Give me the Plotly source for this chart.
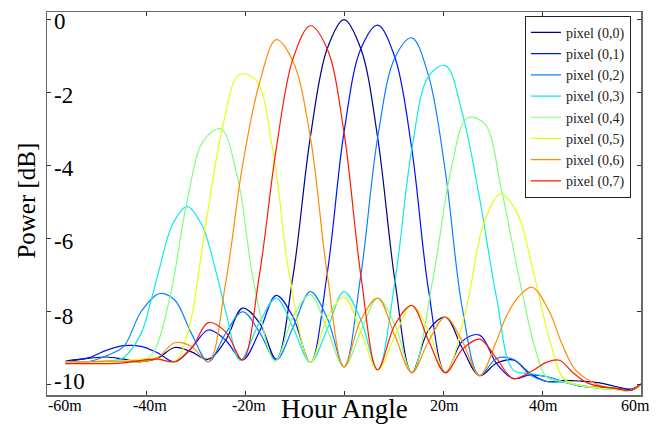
import plotly.graph_objects as go

# ---------------- data (hour angle in minutes, power in dB) ----------------
pixel_labels = ["pixel (0,0)", "pixel (0,1)", "pixel (0,2)", "pixel (0,3)",
                "pixel (0,4)", "pixel (0,5)", "pixel (0,6)", "pixel (0,7)"]

ha_00 = [-56.3, -54.7, -51.3, -47.9, -44.5, -41.0, -37.6, -34.2, -30.8, -27.4, -23.9, -20.5,
         -17.1, -13.7, -10.3, -6.8, -3.4, 0.0, 3.4, 6.8, 10.3, 13.7, 17.1, 20.5, 23.9, 27.4,
         30.8, 34.2, 37.6, 41.0, 44.5, 47.9, 51.3, 54.7, 58.1, 60.0]
pw_00 = [-9.36, -9.32, -9.27, -9.24, -9.30, -9.37, -9.27, -8.98, -9.10, -9.30, -8.78, -7.90,
         -8.30, -9.30, -7.02, -3.22, -0.80, 0.0, -0.80, -3.23, -7.16, -9.67, -8.50, -8.15, -9.00,
         -9.75, -9.41, -9.32, -9.69, -9.91, -9.88, -9.90, -9.94, -10.04, -10.12, -9.98]

ha_01 = [-56.3, -54.7, -51.3, -47.9, -44.5, -41.0, -37.6, -34.2, -30.8, -27.4, -23.9, -20.5,
         -17.1, -13.7, -10.3, -6.8, -3.4, 0.0, 3.4, 6.8, 10.3, 13.7, 17.1, 20.5, 23.9, 27.4,
         30.8, 34.2, 37.6, 41.0, 44.5, 47.9, 51.3, 54.7, 58.1, 60.0]
pw_01 = [-9.37, -9.34, -9.25, -9.05, -8.93, -8.95, -9.13, -9.37, -8.99, -8.50, -8.78, -9.32,
         -8.55, -7.55, -8.14, -9.39, -6.96, -3.09, -0.80, -0.15, -1.04, -3.55, -7.43, -9.67,
         -8.81, -8.64, -9.41, -9.83, -9.73, -9.78, -9.92, -10.04, -10.07, -10.09, -10.12, -9.98]

ha_02 = [-56.3, -54.7, -51.3, -47.9, -44.5, -41.0, -37.2, -34.2, -30.8, -27.4, -23.9, -20.5,
         -17.1, -13.7, -10.3, -6.8, -3.4, 0.0, 3.4, 6.8, 10.3, 13.7, 17.1, 20.5, 23.9, 27.4,
         30.8, 34.2, 37.6, 41.0, 44.5, 47.9, 51.3, 54.7, 58.1, 60.0]
pw_02 = [-9.37, -9.37, -9.36, -9.20, -8.95, -8.00, -7.50, -7.68, -8.60, -9.37, -8.59, -8.00,
         -8.55, -9.32, -8.43, -7.45, -8.17, -9.51, -7.00, -3.23, -1.04, -0.50, -1.55, -4.19,
         -7.90, -9.75, -9.28, -9.30, -9.73, -9.91, -9.93, -10.02, -10.08, -10.13, -10.15, -9.98]

ha_03 = [-56.3, -54.7, -51.3, -47.9, -44.5, -41.0, -39.0, -37.4, -34.6, -31.7, -28.8, -25.9,
         -23.7, -21.0, -17.1, -13.7, -10.3, -6.8, -3.4, 0.0, 3.4, 6.8, 10.3, 13.7, 17.1, 20.5,
         23.9, 27.4, 30.8, 34.2, 37.6, 41.0, 44.5, 47.9, 51.3, 54.7, 58.1, 60.0]
pw_03 = [-9.37, -9.37, -9.37, -9.35, -9.25, -8.60, -7.70, -6.88, -5.60, -5.12, -5.60, -6.88,
         -8.10, -9.33, -8.30, -7.63, -8.43, -9.39, -8.48, -7.45, -8.22, -9.59, -7.16, -3.55,
         -1.55, -1.26, -2.56, -4.90, -7.60, -9.60, -9.69, -9.78, -9.93, -10.04, -10.09, -10.13,
         -10.15, -9.98]

ha_04 = [-56.3, -54.7, -51.3, -47.9, -44.5, -41.0, -38.6, -35.2, -31.8, -28.4, -24.9, -21.5,
         -18.1, -13.9, -10.3, -6.8, -3.4, 0.0, 3.4, 6.8, 10.3, 13.7, 18.1, 21.5, 24.9, 28.4,
         31.8, 35.2, 38.6, 41.0, 44.5, 47.9, 51.3, 54.7, 58.1, 60.0]
pw_04 = [-9.37, -9.37, -9.37, -9.35, -9.35, -9.37, -9.13, -7.63, -5.05, -3.32, -2.99, -4.33,
         -7.29, -9.35, -8.14, -7.53, -8.48, -9.51, -8.54, -7.63, -8.35, -9.67, -7.00, -4.19,
         -2.70, -2.85, -4.65, -6.95, -9.00, -9.80, -9.92, -10.02, -10.09, -10.13, -10.15, -9.98]

ha_05 = [-56.3, -54.7, -51.3, -47.9, -44.5, -41.0, -37.6, -34.2, -31.5, -28.1, -24.6, -21.2,
         -17.8, -14.4, -11.0, -6.8, -3.4, 0.0, 3.4, 6.8, 10.3, 13.7, 17.1, 20.5, 24.7, 28.2,
         31.6, 35.0, 38.4, 41.8, 44.5, 47.9, 51.3, 54.7, 58.1, 60.0]
pw_05 = [-9.37, -9.37, -9.37, -9.37, -9.35, -9.29, -9.27, -9.37, -8.55, -5.77, -2.99, -1.51,
         -1.65, -3.55, -7.02, -9.39, -8.17, -7.60, -8.54, -9.59, -8.66, -7.83, -8.53, -9.67,
         -7.90, -5.60, -4.78, -5.30, -7.00, -8.90, -9.85, -10.02, -10.08, -10.13, -10.15, -9.98]

ha_06 = [-56.3, -54.7, -51.3, -47.9, -44.5, -41.0, -37.6, -34.2, -30.8, -27.4, -23.9, -20.5,
         -17.1, -13.7, -10.3, -6.8, -3.4, 0.0, 3.4, 6.8, 10.3, 13.7, 17.1, 20.5, 23.9, 27.4,
         30.8, 32.7, 35.2, 38.0, 41.5, 44.0, 46.8, 51.3, 54.7, 58.1, 60.0]
pw_06 = [-9.37, -9.37, -9.37, -9.35, -9.36, -9.37, -9.25, -8.85, -8.95, -9.37, -7.20, -4.00,
         -1.75, -0.55, -1.15, -3.22, -6.96, -9.51, -8.22, -7.63, -8.66, -9.67, -8.80, -8.15,
         -8.81, -9.75, -8.80, -8.15, -7.60, -7.33, -8.00, -8.87, -9.60, -10.00, -10.10, -10.15,
         -9.98]

ha_07 = [-56.3, -54.7, -51.3, -47.9, -44.5, -41.0, -37.6, -34.2, -30.8, -27.4, -23.9, -20.5,
         -17.1, -13.7, -10.3, -6.8, -3.4, 0.0, 3.4, 6.8, 10.3, 13.7, 17.1, 20.5, 23.9, 27.4,
         30.8, 34.2, 37.6, 41.0, 43.5, 46.5, 49.5, 54.7, 58.1, 60.0]
pw_07 = [-9.42, -9.42, -9.42, -9.42, -9.40, -9.33, -9.30, -9.37, -9.00, -8.30, -8.55, -9.32,
         -7.00, -3.55, -1.07, -0.17, -0.80, -3.09, -7.00, -9.59, -8.35, -7.83, -8.80, -9.67,
         -9.03, -8.75, -9.28, -9.83, -9.65, -9.38, -9.33, -9.70, -9.97, -10.10, -10.15, -9.98]

x_tick_values = [-60, -40, -20, 20, 40, 60]
x_tick_labels = ["-60m", "-40m", "-20m", "20m", "40m", "60m"]
y_tick_values = [0, -2, -4, -6, -8, -10]
y_tick_labels = ["0", "-2", "-4", "-6", "-8", "-10"]

# ---------------- styling ----------------
series_x = [ha_00, ha_01, ha_02, ha_03, ha_04, ha_05, ha_06, ha_07]
series_y = [pw_00, pw_01, pw_02, pw_03, pw_04, pw_05, pw_06, pw_07]
colors = ["#00008c", "#0010ff", "#0a80ff", "#10e8e8", "#80ff80", "#e4ff10", "#ff8c00", "#ff1a00"]

SERIF = "Liberation Serif"
AXIS_COL = "#6a6a6a"

fig = go.Figure()
for name, xs, ys, col in zip(pixel_labels, series_x, series_y, colors):
    fig.add_trace(go.Scatter(x=xs, y=ys, mode="lines", name=name,
                             line=dict(color=col, width=1.2, shape="spline", smoothing=1.0)))

fig.update_layout(
    width=665, height=425,
    margin=dict(l=47, r=24, t=10, b=30),
    paper_bgcolor="white", plot_bgcolor="white",
    font=dict(family=SERIF, color="black"),
    showlegend=True,
    legend=dict(x=0.983, xanchor="right", y=0.99, yanchor="top",
                bgcolor="white", bordercolor="#222222", borderwidth=1,
                font=dict(family=SERIF, size=14.0, color="#222222"),
                itemwidth=30),
)

fig.update_xaxes(range=[-60, 60], tickvals=[-60, -40, -20, 0, 20, 40, 60],
                 showticklabels=False, ticks="inside", ticklen=4, tickwidth=1,
                 tickcolor="#333333", showline=True, linecolor=AXIS_COL, linewidth=1.5,
                 mirror="ticks", showgrid=False, zeroline=False)
fig.update_yaxes(range=[-10.28, 0.207], tickvals=y_tick_values,
                 showticklabels=False, ticks="inside", ticklen=4, tickwidth=1,
                 tickcolor="#333333", showline=True, linecolor=AXIS_COL, linewidth=1.5,
                 mirror="ticks", showgrid=False, zeroline=False)

annotations = []
# x tick labels
for v, t in zip(x_tick_values, x_tick_labels):
    if v == -60:
        anchor, shift = "left", -1
    elif v == 60:
        anchor, shift = "right", 11
    elif v < 0:
        anchor, shift = "center", 4
    else:
        anchor, shift = "center", 1
    annotations.append(dict(x=v, xref="x", y=-0.027, yref="paper", text=t,
                            showarrow=False, xanchor=anchor, yanchor="middle",
                            xshift=shift, font=dict(family=SERIF, size=16, color="black")))
# y tick labels (inside the frame)
y_shift = {0: -2, -2: -3, -4: -3, -6: -3, -8: -5, -10: 3}
for v, t in zip(y_tick_values, y_tick_labels):
    annotations.append(dict(x=0, xref="paper", y=v, yref="y", text=t, showarrow=False,
                            xanchor="left", yanchor="middle", xshift=5, yshift=y_shift[v],
                            font=dict(family=SERIF, size=23, color="black")))
# axis titles
annotations.append(dict(x=0, xref="x", y=-0.036, yref="paper", text="Hour Angle",
                        showarrow=False, xanchor="center", yanchor="middle",
                        font=dict(family=SERIF, size=27, color="black")))
annotations.append(dict(x=-0.034, xref="paper", y=0.507, yref="paper", text="Power [dB]",
                        showarrow=False, xanchor="center", yanchor="middle", textangle=-90,
                        font=dict(family=SERIF, size=25, color="black")))
fig.update_layout(annotations=annotations)

# the page's default 8px body margin would shift the figure; remove it
fig.write_html("out.html",
               config={"displayModeBar": False, "staticPlot": True},
               post_script="document.body.style.margin='0px';document.body.style.overflow='hidden';")
